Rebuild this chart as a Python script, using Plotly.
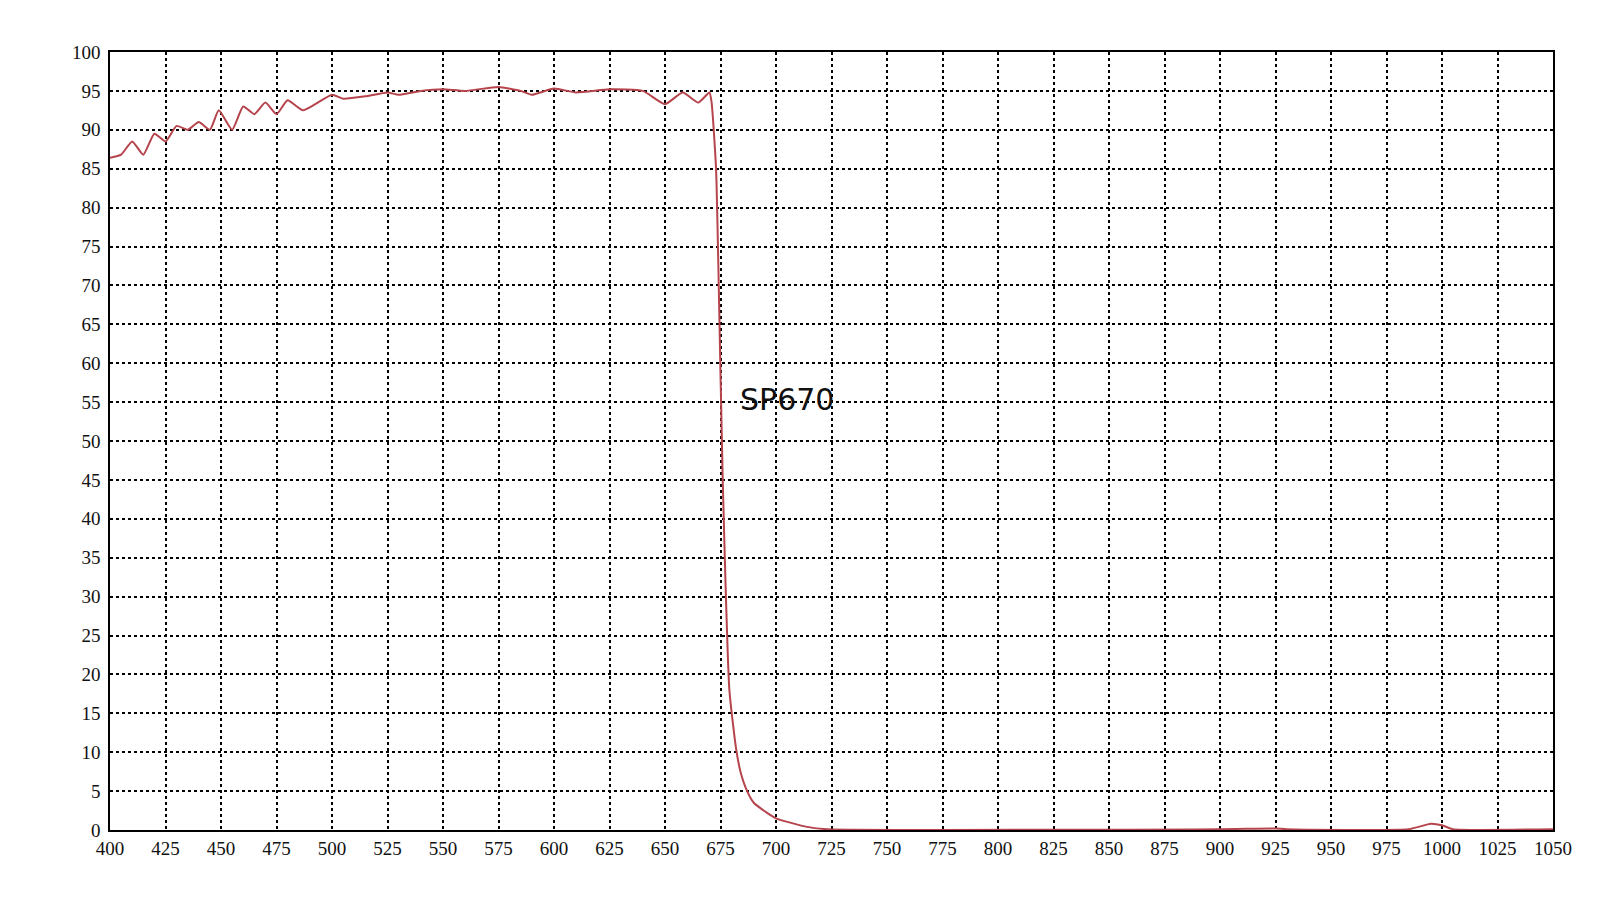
import plotly.graph_objects as go

wavelength = [400,405,410,415,420,425,430,435,440,445,449,455,460,465,470,475,480,487,500,505,515,525,530,540,550,560,575,585,590,600,610,625,640,650,658,665,670,671,673,674,676,679,682,684,687,690,696,700,714,723,900,925,930,985,995,1000,1005,1050]
transmission = [86.4,86.8,88.5,86.8,89.5,88.5,90.5,90,91,90,92.5,90,93,92,93.5,92,93.8,92.5,94.5,94,94.3,94.8,94.5,95,95.2,95,95.5,95,94.5,95.3,94.8,95.2,95,93.3,94.8,93.5,94.8,93.5,85,73,45,18,10.5,7.5,5,3.5,2.2,1.5,0.4,0.1,0.1,0.2,0.1,0.1,0.8,0.6,0.1,0.1]

x_ticks = list(range(400, 1051, 25))
y_ticks = list(range(0, 101, 5))

fig = go.Figure(go.Scatter(x=wavelength, y=transmission, mode="lines", line=dict(color="#b5444c", width=2, shape="spline", smoothing=0.5)))
fig.add_annotation(x=705, y=55.3, text="SP670", showarrow=False, font=dict(family="DejaVu Sans", size=30, color="#111"))
ax = dict(showline=True, linecolor="black", linewidth=1.5, mirror=True, showgrid=True, gridcolor="black", griddash="3px,3px", gridwidth=1.5, zeroline=False, ticks="", automargin=False, tickfont=dict(family="Liberation Serif", size=19, color="#111"))
fig.update_xaxes(range=[400, 1050], tickvals=x_ticks, **ax)
fig.update_yaxes(range=[0, 100], tickvals=y_ticks, ticklabelstandoff=4, **ax)
fig.update_layout(width=1600, height=900, margin=dict(l=102, r=55, t=44, b=78), plot_bgcolor="white", paper_bgcolor="white", showlegend=False)
fig.write_html("out.html")
